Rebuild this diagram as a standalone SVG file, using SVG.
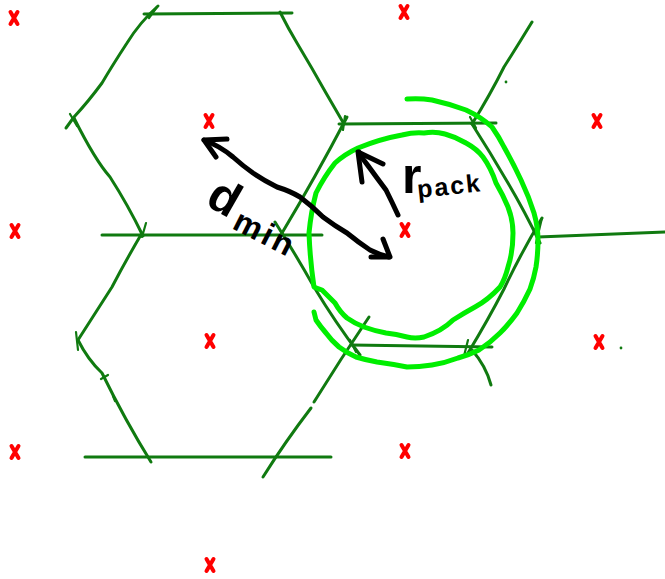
<svg xmlns="http://www.w3.org/2000/svg" width="665" height="579" viewBox="0 0 665 579">
<defs>
<style>
.g{fill:none;stroke:#107a10;stroke-width:3;stroke-linecap:round;stroke-linejoin:round}
.t{fill:none;stroke:#107a10;stroke-width:2.2;stroke-linecap:round}
.lg{fill:none;stroke:#00ee00;stroke-width:5;stroke-linecap:round;stroke-linejoin:round}
.k{fill:none;stroke:#000;stroke-width:5;stroke-linecap:round;stroke-linejoin:round}
.lab{font-family:"Liberation Sans","DejaVu Sans",sans-serif;font-weight:bold;fill:#000}
</style>
<g id="mark"><path d="M-3.5,-6 L3.5,6 M3.5,-6 L-3.5,6" stroke="#ff0000" stroke-width="4" stroke-linecap="round" fill="none"/></g>
</defs>
<rect width="665" height="579" fill="#fff"/>
<g id="points">
<use href="#mark" x="14" y="18"/>
<use href="#mark" x="404" y="12"/>
<use href="#mark" x="209" y="121"/>
<use href="#mark" x="597" y="121"/>
<use href="#mark" x="15" y="231"/>
<use href="#mark" x="405" y="230"/>
<use href="#mark" x="210" y="341"/>
<use href="#mark" x="599" y="342"/>
<use href="#mark" x="15" y="452"/>
<use href="#mark" x="405" y="451"/>
<use href="#mark" x="210" y="565"/>
</g>
<g id="cells">
<path class="g" d="M144,14 L292,13"/>
<path class="g" d="M158,6 Q140,22 127,43 Q112,66 102,83 Q88,102 74,117 L66,128"/>
<path class="g" d="M74,118 Q95,160 110,177 Q128,205 143,236"/>
<path class="g" d="M280,12 Q288,28 297,43 Q312,68 326,93 L344,124"/>
<path class="g" d="M102,235 L322,235"/>
<path class="g" d="M347,117 Q315,178 282,233 L278,239"/>
<path class="g" d="M339,124 L496,123"/>
<path class="g" d="M532,22 Q518,45 504,67 Q490,95 472,124"/>
<path class="g" d="M472,124 Q490,152 508,183 Q524,210 540,243"/>
<path class="g" d="M538,237 L665,232"/>
<path class="g" d="M542,218 Q520,255 504,289 Q488,320 468,353"/>
<path class="g" d="M351,345 L492,347"/>
<path class="g" d="M472,350 Q486,366 491,385"/>
<path class="g" d="M275,222 Q296,255 314,287 Q335,322 360,355"/>
<path class="g" d="M369,317 Q340,360 314,402"/>
<path class="g" d="M311,408 Q285,442 263,477"/>
<path class="g" d="M142,233 Q125,262 112,287 Q92,318 78,340"/>
<path class="g" d="M78,340 Q88,360 102,373 Q125,420 151,462"/>
<path class="g" d="M85,457 L331,457"/>
<path class="t" d="M149,18 L157,7 M70,114 L77,126 M146,223 L142,237 M345,116 L343,130 M470,117 L476,128 M542,218 L536,243 M76,332 L78,350 M101,379 L108,375 M113,396 L115,401 M350,340 L356,352 M468,340 L464,356"/>
<circle cx="506" cy="82" r="1.4" fill="#107a10"/>
<circle cx="621" cy="348" r="1.4" fill="#107a10"/>
</g>
<g id="circles">
<path class="lg" d="M358,148 Q380,139 402,135 Q414,132 424,133 Q435,131 445,134 Q456,137 466,143 Q477,149 483,157 Q491,168 496,183 Q503,195 508,207 Q513,220 513,233 Q513,252 508,267 Q505,279 500,287 Q488,300 475,307 Q464,313 453,320 Q442,331 424,337 Q415,339 407,337 Q396,334 386,333 Q375,331 364,327 Q354,323 347,318 Q340,312 335,303 Q328,296 322,290 Q316,288 314,287 Q310,260 309,233 Q311,212 316,193 Q324,177 335,163 Q345,154 358,148"/>
<path class="lg" d="M407,99 Q420,98 432,100 Q450,104 466,110 Q481,117 492,127 Q499,137 504,147 Q513,163 521,180 Q529,197 534,213 Q538,227 538,240 Q538,254 536,267 Q534,278 530,289 Q524,302 517,313 Q509,324 500,333 Q490,343 479,350 Q469,355 458,358 Q445,363 432,365 Q419,367 407,367 Q392,364 377,362 Q366,360 356,357 Q347,353 339,347 Q331,340 326,333 Q320,326 316,320 L314,312"/>
</g>
<g id="arrows">
<path class="k" d="M204,140 Q220,146 233,157 Q243,166 253,173 Q265,181 277,187 Q290,191 300,197 Q312,206 323,217 Q335,226 347,233 Q358,242 370,250 Q380,255 389,257"/>
<path class="k" d="M227,139 L204,140 L216,157"/>
<path class="k" d="M383,239 L390,257 L371,257"/>
<path class="k" d="M398,215 Q392,202 386,190 Q377,178 369,167 Q363,160 359,152"/>
<path class="k" d="M362,182 L358,152 L383,164"/>
</g>
<g id="labels">
<text class="lab" font-size="48" transform="translate(204,204) rotate(30)">d</text>
<text class="lab" font-size="32" letter-spacing="3" transform="translate(231,228) rotate(27)">min</text>
<text class="lab" font-size="50" x="402" y="193">r</text>
<text class="lab" font-size="25" letter-spacing="2" transform="translate(418,198) rotate(-6)">pack</text>
</g>
</svg>
